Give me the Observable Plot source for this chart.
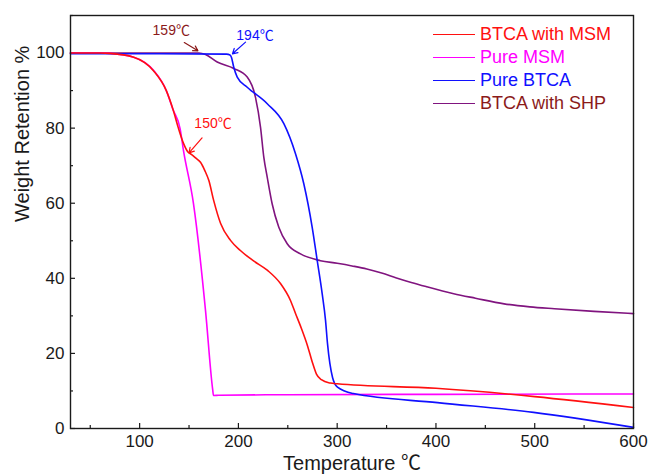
<!DOCTYPE html>
<html>
<head>
<meta charset="utf-8">
<script src="https://cdn.jsdelivr.net/npm/d3@7"></script>
<script src="https://cdn.jsdelivr.net/npm/@observablehq/plot@0.6"></script>
<style>
  body { margin: 0; background: #fff; }
  #chart { position: relative; width: 649px; height: 474px; overflow: hidden;
           font-family: "Liberation Sans", Arial, "Noto Sans CJK SC", sans-serif; }
  .legend { position: absolute; left: 433px; top: 23.6px; }
  .legend .row { display: flex; align-items: center; height: 22.7px; font-size: 18px; white-space: nowrap; }
  .legend .sw { display: inline-block; width: 42px; height: 0; border-top: 1.6px solid; margin-right: 5px; }
</style>
</head>
<body>
<div id="chart"></div>
<script>
// TGA curves: temperature (°C) vs weight retention (%)
const seriesNames = ["BTCA with MSM", "Pure MSM", "Pure BTCA", "BTCA with SHP"];
const lineColors  = ["#ff1010", "#ff00ff", "#1010ff", "#80147f"];
const labelColors = ["#ff1010", "#ff00ff", "#1010ff", "#8b1a1a"];

const tempBtcaMsm = [30, 60, 70, 94, 114, 127, 134, 139, 144, 148.5, 150, 153, 157, 161.6, 166, 170, 175, 182, 192, 202, 215, 229.5, 242.6, 252.7, 258, 264, 270, 275, 279, 284, 293, 300, 400, 500, 600];
const wBtcaMsm    = [100, 100, 99.9, 98.9, 95.3, 90.0, 84.8, 80.2, 76.2, 73.8, 73.4, 72.9, 72.0, 70.9, 68.7, 66.1, 60.7, 54.6, 50.1, 47.4, 44.7, 42.1, 38.6, 34.1, 30.5, 26.5, 22.0, 17.5, 14.5, 13.0, 12.1, 11.9, 10.7, 8.5, 5.6];

const tempMsm = [30, 60, 70, 94, 114, 127, 134, 141, 144.4, 154.5, 166.7, 173.9, 174.8, 180, 250, 400, 600];
const wMsm    = [100, 100, 99.9, 98.9, 95.4, 90.0, 84.8, 79.8, 74.0, 59.9, 31.4, 10.5, 8.8, 8.85, 9.0, 9.1, 9.2];

const tempBtca = [30, 120, 188, 191.5, 193, 195.3, 198.8, 208.9, 229.2, 246, 257.8, 266.2, 274.7, 279.8, 284.8, 288.2, 290.2, 295.3, 300.3, 316.5, 401.6, 498.8, 600];
const wBtca    = [99.8, 99.8, 99.7, 99.5, 98.8, 96.2, 93.6, 90.9, 86.5, 81.2, 73.2, 65.2, 53.6, 44.7, 35.9, 28.8, 22.6, 13.6, 11.0, 9.3, 6.9, 4.3, 0.3];

const tempBtcaShp = [30, 120, 160, 166.7, 178.5, 195.3, 208.9, 217.3, 222.4, 225.7, 229.2, 234.2, 240.9, 249.4, 262.9, 283, 300, 315, 330, 345, 360, 375, 390, 418, 440, 469, 495, 520, 560, 600];
const wBtcaShp    = [100, 100, 100, 99.6, 97.6, 95.9, 93.6, 88.2, 80.2, 72.3, 66.9, 59.8, 53.6, 49.2, 46.5, 44.7, 44.0, 43.3, 42.5, 41.4, 40.1, 38.9, 37.8, 35.9, 34.7, 33.2, 32.4, 31.9, 31.2, 30.6];

// onset temperatures marked on the curves
const onsetTemps   = [159, 194, 150];
const onsetWeights = [100.6, 99.8, 73.4];
const onsetSeries  = ["BTCA with SHP", "Pure BTCA", "BTCA with MSM"];

const xTicks = [100, 200, 300, 400, 500, 600];
const xMinorTicks = [50, 150, 250, 350, 450, 550];
const yTicks = [0, 20, 40, 60, 80, 100];
const yMinorTicks = [10, 30, 50, 70, 90, 110];

const colorOf = Object.fromEntries(seriesNames.map((n, i) => [n, lineColors[i]]));
const labelColorOf = Object.fromEntries(seriesNames.map((n, i) => [n, labelColors[i]]));

const toRows = (name, ts, ws) => ts.map((t, i) => ({series: name, T: t, W: ws[i]}));
const rowsByName = {
  "BTCA with MSM": toRows("BTCA with MSM", tempBtcaMsm, wBtcaMsm),
  "Pure MSM": toRows("Pure MSM", tempMsm, wMsm),
  "Pure BTCA": toRows("Pure BTCA", tempBtca, wBtca),
  "BTCA with SHP": toRows("BTCA with SHP", tempBtcaShp, wBtcaShp)
};
const drawOrder = ["BTCA with SHP", "Pure MSM", "Pure BTCA", "BTCA with MSM"];

// callout geometry relative to each arrow tip (data units)
const calloutLayout = [
  {ax: -13.8, ay: 2.2, tx: -27, ty: 5.3},
  {ax: 13.2, ay: 3.1, tx: 22.8, ty: 4.9},
  {ax: 13.2, ay: 4.0, tx: 24.3, ty: 7.7}
];
const callouts = onsetTemps.map((t, i) => ({
  label: `${t}℃`,
  color: labelColorOf[onsetSeries[i]],
  x2: t, y2: onsetWeights[i],
  x1: t + calloutLayout[i].ax, y1: onsetWeights[i] + calloutLayout[i].ay,
  tx: t + calloutLayout[i].tx, ty: onsetWeights[i] + calloutLayout[i].ty
}));

const W = 649, H = 474, mL = 70, mR = 16, mT = 15, mB = 46;
const innerW = W - mL - mR, innerH = H - mT - mB;

const chart = Plot.plot({
  width: W, height: H,
  marginLeft: mL, marginRight: mR, marginTop: mT, marginBottom: mB,
  style: {fontFamily: '"Liberation Sans", Arial, "Noto Sans CJK SC", sans-serif', fontSize: "17px", color: "#1a1a1a", background: "#fff"},
  x: {domain: [30, 600]},
  y: {domain: [0, 110]},
  marks: [
    Plot.axisX(xTicks, {tickSize: 0, tickPadding: 6, fontSize: 17, label: null}),
    Plot.axisY(yTicks, {tickSize: 0, tickPadding: 6, fontSize: 17, label: null}),
    // inward tick marks
    Plot.tickX(xTicks, {x: d => d, insetTop: innerH - 5, stroke: "#1a1a1a", strokeWidth: 1.2}),
    Plot.tickX(xMinorTicks, {x: d => d, insetTop: innerH - 3, stroke: "#1a1a1a", strokeWidth: 1.2}),
    Plot.tickY(yTicks, {y: d => d, insetRight: innerW - 5, stroke: "#1a1a1a", strokeWidth: 1.2}),
    Plot.tickY(yMinorTicks, {y: d => d, insetRight: innerW - 3, stroke: "#1a1a1a", strokeWidth: 1.2}),
    ...drawOrder.map(name => Plot.line(rowsByName[name], {
      x: "T", y: "W", stroke: colorOf[name], strokeWidth: 1.6, curve: "monotone-x"
    })),
    Plot.arrow(callouts, {x1: "x1", y1: "y1", x2: "x2", y2: "y2", stroke: d => d.color, strokeWidth: 1.2, headLength: 7}),
    Plot.text(callouts, {x: "tx", y: "ty", text: "label", fill: d => d.color, fontSize: 14}),
    Plot.frame({stroke: "#1a1a1a", strokeWidth: 1.4}),
    Plot.text(["Weight Retention %"], {text: d => d, frameAnchor: "left", dx: -48, rotate: -90, fontSize: 20, fill: "#1a1a1a"}),
    Plot.text(["Temperature ℃"], {text: d => d, frameAnchor: "bottom", dy: 41, fontSize: 20, fill: "#1a1a1a"})
  ]
});

const root = document.getElementById("chart");
root.appendChild(chart);

const legend = document.createElement("div");
legend.className = "legend";
seriesNames.forEach((name, i) => {
  const row = document.createElement("div");
  row.className = "row";
  const sw = document.createElement("span");
  sw.className = "sw";
  sw.style.borderTopColor = lineColors[i];
  const label = document.createElement("span");
  label.textContent = name;
  label.style.color = labelColors[i];
  row.append(sw, label);
  legend.appendChild(row);
});
root.appendChild(legend);
</script>
</body>
</html>
